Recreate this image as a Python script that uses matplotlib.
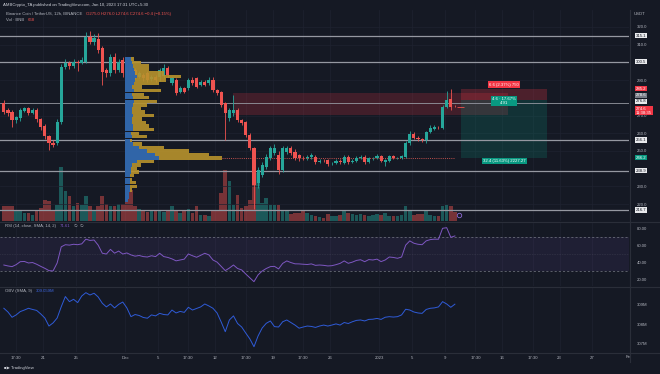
import matplotlib
matplotlib.use("Agg")
import matplotlib.pyplot as plt
from matplotlib.patches import Rectangle
from matplotlib.lines import Line2D
import matplotlib.transforms as mtransforms
import numpy as np
import pandas as pd

# ---- data (BNB/USDT, 12h candles) ----
first_candle = "2022-11-16 05:30"

opens = [276.9, 273.0, 272.2, 267.5, 268.4, 272.5, 274.1, 271.6, 273.1, 267.8,
         264.1, 258.4, 254.5, 254.3, 266.5, 297.6, 299.5, 298.0, 300.4, 299.6,
         300.4, 314.5, 311.7, 313.0, 308.0, 295.7, 293.8, 303.2, 295.7, 301.4,
         297.0, 298.5, 295.7, 292.0, 293.0, 293.8, 290.5, 292.0, 292.0, 292.5,
         297.0, 288.2, 290.1, 283.5, 285.4, 285.4, 290.1, 291.0, 287.3, 289.1,
         288.2, 290.1, 284.4, 283.5, 276.9, 268.4, 271.2, 273.1, 267.5, 266.5,
         259.0, 251.5, 231.7, 236.4, 241.1, 245.8, 248.7, 247.8, 239.2, 249.6,
         251.5, 249.6, 247.8, 246.0, 245.8, 246.5, 246.8, 243.5, 244.5, 244.8,
         243.0, 243.0, 244.5, 243.2, 246.8, 243.5, 244.5, 245.8, 246.8, 243.5,
         245.8, 245.8, 247.0, 243.5, 244.3, 247.0, 245.8, 246.0, 246.5, 254.3,
         259.5, 257.5, 256.6, 256.0, 260.5, 262.5, 263.5, 263.0, 275.0, 279.5, 275.0]
highs = [279.0, 274.0, 273.0, 270.0, 274.0, 275.0, 275.0, 274.0, 274.0, 268.5,
         265.0, 259.0, 256.0, 268.0, 299.0, 302.0, 301.0, 302.0, 301.5, 303.0,
         317.0, 317.5, 316.0, 316.5, 309.0, 297.0, 305.0, 305.5, 302.0, 303.0,
         299.5, 300.0, 297.0, 295.0, 294.0, 295.0, 293.0, 293.0, 297.0, 299.0,
         298.0, 292.0, 291.0, 286.5, 286.0, 291.0, 291.5, 292.0, 290.0, 290.0,
         291.5, 291.5, 285.0, 284.0, 277.5, 274.0, 281.6, 274.0, 268.0, 267.0,
         260.0, 252.0, 241.0, 244.0, 248.0, 253.0, 254.0, 250.0, 253.0, 252.5,
         252.5, 251.0, 248.5, 247.0, 247.5, 249.0, 247.5, 245.5, 245.2, 245.5,
         244.0, 245.5, 245.5, 247.5, 247.5, 245.5, 247.0, 247.8, 247.5, 246.5,
         246.8, 248.0, 247.8, 245.5, 247.8, 247.8, 246.8, 247.8, 255.5, 261.0,
         260.5, 258.5, 257.2, 261.5, 264.6, 264.5, 264.3, 276.0, 284.0, 285.0, 276.0]
lows = [271.0, 270.0, 263.7, 266.0, 267.0, 272.0, 270.5, 271.0, 266.5, 262.0,
        256.5, 250.5, 252.0, 253.5, 265.0, 296.0, 296.5, 297.0, 295.0, 299.0,
        299.5, 310.5, 310.0, 305.5, 287.0, 292.0, 292.5, 294.0, 294.5, 292.0,
        292.5, 291.0, 290.5, 291.0, 289.5, 289.0, 289.5, 289.0, 289.5, 291.0,
        292.0, 287.0, 281.5, 282.5, 282.5, 284.5, 287.5, 285.5, 286.5, 286.5,
        287.5, 283.5, 281.5, 275.0, 256.2, 267.0, 270.0, 266.5, 264.5, 258.0,
        250.5, 217.0, 229.0, 235.0, 240.0, 245.0, 247.5, 237.0, 238.0, 248.5,
        247.5, 245.0, 244.5, 245.0, 245.0, 245.5, 242.5, 243.0, 243.5, 241.5,
        242.0, 242.5, 242.8, 242.5, 242.5, 243.0, 244.0, 245.5, 242.8, 243.0,
        245.0, 245.2, 243.5, 241.5, 243.8, 245.2, 245.2, 245.5, 246.0, 253.5,
        256.5, 255.5, 255.0, 254.5, 260.0, 262.0, 262.5, 262.5, 274.5, 273.0, 274.6]
closes = [272.2, 271.6, 267.5, 269.0, 273.1, 274.1, 271.6, 273.1, 267.8, 263.7,
          258.4, 254.3, 253.3, 266.5, 297.6, 299.5, 298.0, 300.4, 299.5, 301.4,
          314.5, 311.7, 313.6, 307.0, 294.8, 293.8, 303.2, 295.7, 300.4, 293.8,
          294.0, 292.9, 292.0, 293.8, 291.0, 290.1, 292.0, 290.1, 295.7, 297.0,
          293.0, 291.0, 282.5, 285.4, 283.5, 290.1, 288.2, 286.3, 289.1, 287.3,
          290.1, 284.4, 282.5, 276.0, 271.2, 273.1, 273.1, 267.5, 265.6, 259.0,
          251.5, 230.7, 239.2, 242.1, 246.8, 251.5, 251.5, 239.2, 251.5, 251.5,
          248.7, 245.8, 245.8, 245.8, 246.8, 247.5, 243.5, 244.5, 244.2, 242.8,
          243.2, 244.5, 243.5, 246.8, 243.5, 244.5, 246.0, 246.8, 243.5, 245.8,
          245.9, 247.0, 244.2, 244.8, 247.0, 245.8, 246.0, 247.0, 254.3, 259.5,
          257.5, 256.6, 256.2, 260.5, 262.8, 263.5, 263.3, 275.0, 278.8, 275.0, 274.6]
volumes = [14.7, 15.3, 15.3, 11.3, 9.7, 8.0, 8.0, 6.3, 9.7, 13.0,
           21.3, 19.7, 9.7, 16.3, 54.0, 29.7, 24.7, 14.7, 18.0, 16.3,
           25.3, 14.7, 11.3, 14.7, 25.3, 17.3, 15.3, 14.7, 17.3, 17.3,
           22.0, 31.3, 14.7, 12.0, 10.3, 8.7, 9.7, 9.7, 9.7, 8.7,
           9.7, 15.3, 11.3, 8.0, 11.3, 12.0, 8.0, 14.7, 6.3, 6.3,
           5.3, 11.3, 10.7, 28.0, 51.3, 39.7, 16.3, 25.7, 13.0, 14.7,
           21.3, 60.0, 48.0, 18.0, 23.0, 16.3, 16.3, 16.3, 11.3, 9.7,
           7.3, 8.0, 8.0, 9.7, 8.0, 6.3, 4.7, 4.0, 3.0, 7.3,
           4.7, 5.3, 6.3, 9.7, 8.0, 7.3, 5.7, 7.0, 6.3, 5.3,
           6.3, 7.3, 6.3, 8.0, 5.3, 4.7, 4.7, 6.3, 15.3, 10.3,
           6.3, 7.3, 7.3, 10.7, 6.3, 4.7, 4.7, 15.3, 16.3, 15.3, 8.7]
rsi = [37.6, 36.5, 35.7, 38.0, 41.5, 41.8, 40.0, 40.5, 38.5, 36.0,
       33.7, 31.0, 30.6, 40.0, 59.0, 61.5, 61.0, 62.0, 61.5, 62.5,
       68.0, 66.5, 67.0, 61.0, 51.5, 50.5, 56.0, 51.5, 54.0, 50.5,
       51.8, 49.5, 48.0, 48.8, 47.5, 47.0, 48.5, 47.5, 51.4, 47.5,
       46.5, 44.8, 42.5, 43.5, 44.5, 50.6, 48.5, 46.7, 49.0, 51.4,
       49.5, 43.5, 41.0, 36.0, 31.0, 34.0, 37.6, 33.5, 31.8, 27.0,
       22.5, 18.0, 26.0, 30.5, 33.5, 35.7, 36.0, 33.0, 39.5, 42.4,
       40.5, 39.0, 38.9, 38.5, 38.2, 38.9, 37.2, 37.6, 37.2, 36.5,
       36.8, 38.0, 39.5, 42.4, 39.6, 41.0, 43.0, 43.8, 41.5, 44.0,
       43.5, 44.5, 41.6, 43.5, 47.0, 46.5, 45.5, 47.0, 61.0, 66.0,
       63.2, 62.0, 61.5, 66.0, 67.5, 68.0, 67.9, 80.8, 81.5, 70.2, 71.8]
obv_m = [308.83, 308.64, 308.37, 308.49, 308.66, 308.74, 308.83, 308.77, 308.72, 308.54,
         308.33, 307.92, 308.08, 308.33, 308.91, 309.43, 309.17, 309.29, 309.12, 309.46,
         309.63, 309.51, 309.60, 309.41, 309.09, 308.90, 309.05, 308.85, 309.03, 309.15,
         308.85, 308.40, 308.51, 308.46, 308.36, 308.32, 308.49, 308.44, 308.57, 308.51,
         308.49, 308.74, 308.59, 308.67, 308.62, 308.88, 308.74, 308.82, 308.90, 309.05,
         308.95, 308.83, 308.59, 308.13, 307.63, 308.23, 308.44, 308.05, 307.87, 307.56,
         307.26, 306.86, 307.41, 307.82, 308.06, 308.18, 307.89, 307.87, 308.14, 308.23,
         308.10, 307.97, 307.81, 307.87, 307.92, 307.90, 307.85, 307.92, 307.97, 307.92,
         307.97, 308.03, 307.97, 308.10, 308.05, 308.14, 308.21, 308.23, 308.18, 308.26,
         308.27, 308.31, 308.26, 308.37, 308.40, 308.38, 308.40, 308.49, 308.78, 308.74,
         308.64, 308.59, 308.57, 308.77, 308.83, 308.85, 308.90, 309.17, 309.05, 308.88, 309.04]

# fixed range volume profile (rows of 2 USDT), total and up volume
profile_start = "2022-12-01 00:00"
profile_price = [302, 300, 298, 296, 294, 292, 290, 288, 286, 284,
                 282, 280, 278, 276, 274, 272, 270, 268, 266, 264,
                 262, 260, 258, 256, 254, 252, 250, 248, 246, 244,
                 242, 240, 238, 236, 234, 232, 230, 228, 226, 224, 222]
profile_total = [9, 16, 24, 24, 39, 56, 41, 34, 17, 36,
                 19, 24, 32, 22, 16, 20, 29, 17, 21, 24,
                 29, 14, 22, 7, 17, 39, 64, 84, 97, 29,
                 16, 12, 14, 9, 7, 11, 12, 7, 4, 4, 3]
profile_up = [6, 7, 8, 9, 10, 12, 10, 9, 7, 9,
              7, 8, 9, 8, 7, 7, 8, 7, 7, 8,
              8, 6, 7, 5, 8, 14, 22, 30, 34, 12,
              7, 6, 6, 5, 5, 5, 5, 5, 4, 4, 3]

level_lines = [315.1, 300.5, 276.8, 256.1, 238.9, 216.7]
zone_top, zone_bottom = 282.5, 270.5
zone_start, zone_end = "2022-12-14 05:30", "2023-01-16 17:30"
pos_start, pos_end = "2023-01-11 00:00", "2023-01-21 12:00"
pos_stop, pos_entry, pos_target = 285.2, 278.6, 246.2
last_price = 274.6

price_ticks = [320, 310, 290, 270, 260, 250, 230, 220]
rsi_ticks = [80, 60, 40, 20]
obv_ticks = [309, 308, 307]
tick_times = ["2022-11-17 17:30", "2022-11-21", "2022-11-25", "2022-12-01", "2022-12-05",
              "2022-12-08 17:30", "2022-12-12", "2022-12-15 17:30", "2022-12-19",
              "2022-12-22 17:30", "2022-12-26", "2023-01-01", "2023-01-05", "2023-01-09",
              "2023-01-12 17:30", "2023-01-16", "2023-01-19 17:30", "2023-01-23", "2023-01-27"]
tick_labels = ["17:30", "21", "25", "Dec", "5", "17:30", "12", "17:30", "19", "17:30",
               "26", "2023", "5", "9", "17:30", "16", "17:30", "23", "27"]

# ---- styling ----
BG = "#151924"
GRID = "#1e2230"
SEP = "#2a2e39"
TXT = "#b2b5be"
UP = "#26a69a"
DOWN = "#ef5350"
FS = 3.1
plt.rcParams["font.family"] = ["Liberation Sans", "DejaVu Sans"]

W, H = 660, 374
ORIGIN = pd.Timestamp("2022-12-01")


def days(t):
    return (pd.Timestamp(t) - ORIGIN) / pd.Timedelta(days=1)


def box(x0, y0, x1, y1):
    return [x0 / W, 1 - y1 / H, (x1 - x0) / W, (y1 - y0) / H]


times = pd.date_range(first_candle, periods=len(closes), freq="12h")
x = np.array([(t - ORIGIN) / pd.Timedelta(days=1) for t in times])
o, h, l, c = map(np.array, (opens, highs, lows, closes))
colors = np.where(c >= o, UP, DOWN)

fig = plt.figure(figsize=(W / 100, H / 100), dpi=100, facecolor=BG)
ax = fig.add_axes(box(0, 10, 629, 221), facecolor=BG)
ax_rsi = fig.add_axes(box(0, 222, 629, 286), facecolor=BG, sharex=ax)
ax_obv = fig.add_axes(box(0, 287, 629, 352), facecolor=BG, sharex=ax)
ax_vol = ax.twinx()
ax.set_zorder(ax_vol.get_zorder() + 1)
ax.patch.set_visible(False)
ax_vol.set_facecolor(BG)

xmin, xmax = -15.24, 61.46
ax.set_xlim(xmin, xmax)
ax.set_ylim(210.4, 329.6)
ax_vol.set_ylim(0, 211)
ax_rsi.set_ylim(12.9, 88.2)
ax_obv.set_ylim(306.59, 309.92)

tick_x = [days(t) for t in tick_times]
for a in (ax, ax_rsi, ax_obv, ax_vol):
    for s in a.spines.values():
        s.set_visible(False)
    a.tick_params(length=0, labelsize=FS, colors=TXT)
for a in (ax_rsi, ax_obv, ax_vol):
    for tx in tick_x:
        a.axvline(tx, color=GRID, lw=0.5, zorder=0)
ax_vol.set_yticks([])

# volume
ax_vol.bar(x, volumes, width=0.44, color=colors, alpha=0.45, linewidth=0)
ax_vol.plot(x[-1] + 0.5, 6, marker="o", ms=3.2, mfc="none", mec="#8e6bd6", mew=0.6)

# horizontal grid
for p in price_ticks:
    ax.axhline(p, color=GRID, lw=0.5, zorder=0)

# supply zone and position tool
z0, z1 = days(zone_start), days(zone_end)
ax.add_patch(Rectangle((z0, zone_bottom), z1 - z0, zone_top - zone_bottom,
                       facecolor="#f23645", alpha=0.2, lw=0, zorder=1))
p0, p1 = days(pos_start), days(pos_end)
ax.add_patch(Rectangle((p0, pos_entry), p1 - p0, pos_stop - pos_entry,
                       facecolor="#f23645", alpha=0.25, lw=0, zorder=1))
ax.add_patch(Rectangle((p0, pos_target), p1 - p0, pos_entry - pos_target,
                       facecolor="#089981", alpha=0.2, lw=0, zorder=1))

# level lines
for lv in level_lines:
    ax.axhline(lv, color="#9598a1", lw=0.9 if lv != 276.8 else 0.6, zorder=2)

# volume profile
px_day = 629 / (xmax - xmin)
vp_scale = (97 / px_day) / max(profile_total)
vp0 = days(profile_start)
ax.barh(profile_price, np.array(profile_total) * vp_scale, left=vp0, height=1.9,
        color="#b8932c", alpha=0.9, lw=0, zorder=4)
ax.barh(profile_price, np.array(profile_up) * vp_scale, left=vp0, height=1.9,
        color="#2a64b0", alpha=0.95, lw=0, zorder=4)
poc = profile_price[int(np.argmax(profile_total))]
ax.hlines(poc, vp0 + max(profile_total) * vp_scale, x[-1], colors="#c0504d",
          lw=0.7, linestyles=(0, (1, 1.2)), zorder=2)

# candles
ax.vlines(x, l, h, colors=colors, lw=0.6, zorder=3)
ax.bar(x, np.maximum(np.abs(c - o), 0.3), bottom=np.minimum(o, c), width=0.38,
       color=colors, lw=0, zorder=3)
ax.hlines(last_price, x[-1] + 0.3, x[-1] + 1.1, colors=DOWN, lw=0.6, zorder=3)

# price axis
ax.yaxis.tick_right()
ax.set_yticks(price_ticks)
ax.set_yticklabels([f"{p:.1f}" for p in price_ticks])
ax.tick_params(axis="y", pad=5.5)
ax.tick_params(axis="x", labelbottom=False)
ytrans = mtransforms.blended_transform_factory(ax.transAxes, ax.transData)


def price_label(val, text, fc, tc, dy=0):
    ax.annotate(text, (1.0, val), xycoords=ytrans, xytext=(5, dy),
                textcoords="offset points", ha="left", va="center",
                fontsize=FS, color=tc, zorder=10, annotation_clip=False,
                linespacing=1.0,
                bbox=dict(boxstyle="square,pad=0.18", fc=fc, ec="none"))


for lv in level_lines:
    price_label(lv, f"{lv:.1f}", "#e8e9ec", "#131722", dy=1.5 if lv == 276.8 else 0)
price_label(pos_stop, f"{pos_stop:.1f}", "#f23645", "white")
price_label(pos_entry, f"{pos_entry:.1f}", "#787b86", "white", dy=3.6)
price_label(last_price, f"{last_price:.1f}\n11:38:35", "#f23645", "white", dy=-2.4)
price_label(pos_target, f"{pos_target:.1f}", "#089981", "white")

# position tool labels
pm = (p0 + p1) / 2
ax.text(pm, pos_stop + 2.2, "6.6 (2.37%) 750", fontsize=FS, color="white",
        ha="center", va="center", zorder=11,
        bbox=dict(boxstyle="square,pad=0.3", fc="#f23645", ec="none"))
ax.text(pm, pos_entry - 0.3, "4.6 · 17.67%\n4.91", fontsize=FS, color="white",
        ha="center", va="center", zorder=11, linespacing=1.0,
        bbox=dict(boxstyle="square,pad=0.3", fc="#089981", ec="none"))
ax.text(pm, pos_target - 1.9, "32.4 (11.63%) 2227.27", fontsize=FS, color="white",
        ha="center", va="center", zorder=11,
        bbox=dict(boxstyle="square,pad=0.3", fc="#089981", ec="none"))

# RSI
ax_rsi.axhspan(30, 70, color="#7e57c2", alpha=0.1, lw=0)
ax_rsi.axhline(70, color="#787b86", lw=0.5, ls=(0, (3, 3)))
ax_rsi.axhline(30, color="#787b86", lw=0.5, ls=(0, (3, 3)))
ax_rsi.axhline(50, color="#787b86", lw=0.4, ls=(0, (1, 2)), alpha=0.5)
ax_rsi.plot(x, rsi, color="#7e57c2", lw=0.7)
ax_rsi.yaxis.tick_right()
ax_rsi.set_yticks(rsi_ticks)
ax_rsi.set_yticklabels([f"{v:.2f}" for v in rsi_ticks])
ax_rsi.tick_params(axis="y", pad=5.5)
ax_rsi.tick_params(axis="x", labelbottom=False)

# OBV
ax_obv.plot(x, obv_m, color="#2f5bd8", lw=0.7)
ax_obv.yaxis.tick_right()
ax_obv.set_yticks(obv_ticks)
ax_obv.set_yticklabels([f"{v}M" for v in obv_ticks])
ax_obv.tick_params(axis="y", pad=5.5)
ax_obv.set_xticks(tick_x)
ax_obv.set_xticklabels(tick_labels)
ax_obv.tick_params(axis="x", pad=3)
ax_obv.set_xlim(xmin, xmax)

# separators
for yy in (221.5, 286.5, 352.5):
    fig.add_artist(Line2D([0, 1], [1 - yy / H] * 2, color=SEP, lw=0.8))
fig.add_artist(Line2D([629.5 / W] * 2, [1 - 10 / H, 1 - 362 / H], color=SEP, lw=0.8))


def ftext(px, py, s, color=TXT, **kw):
    return fig.text(px / W, 1 - py / H, s, color=color, fontsize=FS, va="center", **kw)


def after(prev, s, color, gap=2.5):
    # text placed right after a previous text
    return ax.annotate(s, xy=(1, 0.5), xycoords=prev, xytext=(gap, 0),
                       textcoords="offset points", ha="left", va="center",
                       fontsize=FS, color=color, annotation_clip=False)


ftext(3, 5, "AMBCrypto_TA published on TradingView.com, Jan 10, 2023 17:31 UTC+5:30", color="#d1d4dc")
t = ftext(6, 14, "Binance Coin / TetherUS, 12h, BINANCE")
after(t, "O275.0 H276.0 L274.6 C274.6 \u22120.4 (\u22120.15%)", DOWN)
t = ftext(6, 20, "Vol \u00b7 BNB")
after(t, "668", DOWN)
ftext(640, 14, "USDT", ha="center")
t = ftext(5, 226, "RSI (14, close, SMA, 14, 2)")
t = after(t, "71.61", "#7e57c2")
after(t, "\u2205  \u2205", TXT)
t = ftext(5, 291, "OBV (SMA, 9)")
after(t, "309.059M", "#3d66e0")
ftext(626, 357, "Fe")
ftext(4, 368, "\u25a0\u25b6 TradingView", color="#d1d4dc")

fig.savefig("out.png", dpi=100, facecolor=BG)
